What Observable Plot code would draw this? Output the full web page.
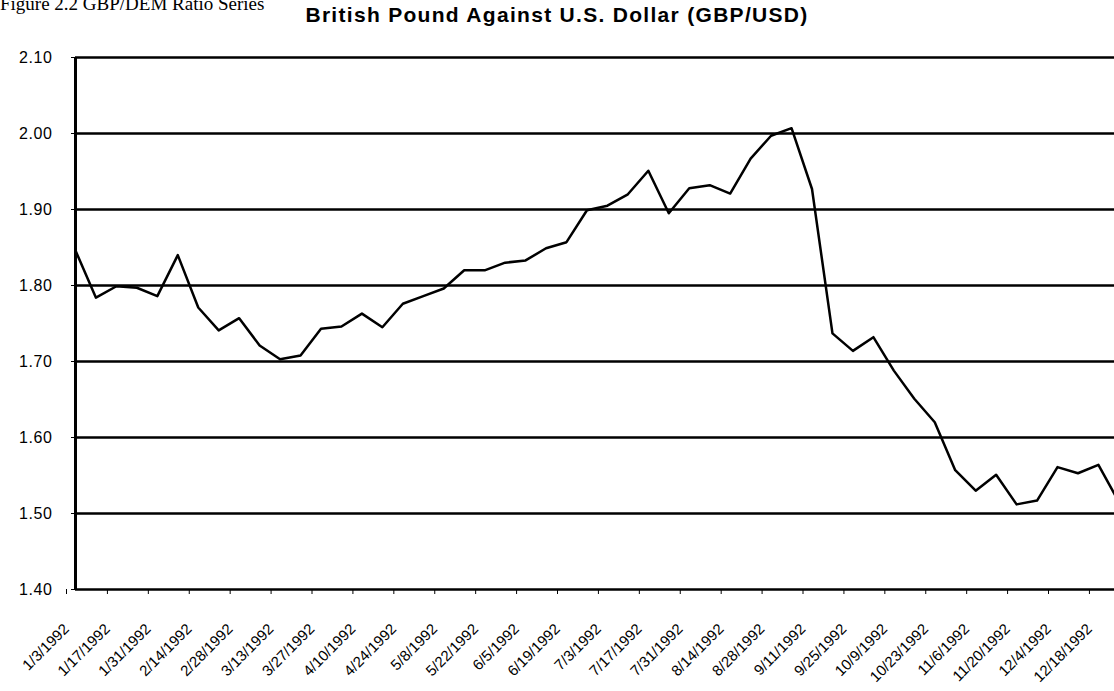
<!DOCTYPE html>
<html>
<head>
<meta charset="utf-8">
<script src="https://cdn.jsdelivr.net/npm/d3@7"></script>
<script src="https://cdn.jsdelivr.net/npm/@observablehq/plot@0.6"></script>
<style>
  html, body { margin: 0; padding: 0; background: #fff; }
  #wrap { position: relative; width: 1114px; height: 691px; overflow: hidden; background: #fff; }
  #fig { position: absolute; left: 0; top: -6px; font-family: "Liberation Serif", "Times New Roman", serif; font-size: 19px; line-height: 20px; white-space: nowrap; color: #000; }
  #title { position: absolute; left: 0; top: 3px; width: 1114px; text-align: center; font-family: "Liberation Sans", Arial, sans-serif; font-weight: bold; font-size: 21px; letter-spacing: 1.3px; line-height: 24px; color: #000; }
  #chart { position: absolute; left: 0; top: 30px; }
  #chart g[aria-label="y-axis tick label"] { letter-spacing: 0.6px; }
</style>
</head>
<body>
<div id="wrap">
  <div id="fig">Figure 2.2 GBP/DEM Ratio Series</div>
  <div id="title">British Pound Against U.S. Dollar (GBP/USD)</div>
  <div id="chart"></div>
</div>
<script>
// Weekly observation dates (1992)
const dates = [
  "1992-01-03","1992-01-10","1992-01-17","1992-01-24","1992-01-31","1992-02-07","1992-02-14","1992-02-21",
  "1992-02-28","1992-03-06","1992-03-13","1992-03-20","1992-03-27","1992-04-03","1992-04-10","1992-04-17",
  "1992-04-24","1992-05-01","1992-05-08","1992-05-15","1992-05-22","1992-05-29","1992-06-05","1992-06-12",
  "1992-06-19","1992-06-26","1992-07-03","1992-07-10","1992-07-17","1992-07-24","1992-07-31","1992-08-07",
  "1992-08-14","1992-08-21","1992-08-28","1992-09-04","1992-09-11","1992-09-18","1992-09-25","1992-10-02",
  "1992-10-09","1992-10-16","1992-10-23","1992-10-30","1992-11-06","1992-11-13","1992-11-20","1992-11-27",
  "1992-12-04","1992-12-11","1992-12-18","1992-12-25"
];
// GBP/USD rate
const rates = [
  1.846, 1.784, 1.799, 1.797, 1.786, 1.840, 1.771, 1.741,
  1.757, 1.721, 1.703, 1.708, 1.743, 1.746, 1.763, 1.745,
  1.776, 1.786, 1.796, 1.820, 1.820, 1.830, 1.833, 1.849,
  1.857, 1.899, 1.905, 1.920, 1.951, 1.895, 1.928, 1.932,
  1.921, 1.967, 1.997, 2.007, 1.927, 1.737, 1.714, 1.732,
  1.688, 1.651, 1.620, 1.557, 1.530, 1.551, 1.512, 1.517,
  1.561, 1.553, 1.564, 1.515
];
// Category axis labels (every two weeks)
const xTickLabels = [
  "1/3/1992","1/17/1992","1/31/1992","2/14/1992","2/28/1992","3/13/1992","3/27/1992","4/10/1992",
  "4/24/1992","5/8/1992","5/22/1992","6/5/1992","6/19/1992","7/3/1992","7/17/1992","7/31/1992",
  "8/14/1992","8/28/1992","9/11/1992","9/25/1992","10/9/1992","10/23/1992","11/6/1992","11/20/1992",
  "12/4/1992","12/18/1992"
];
const yTicks = [1.40, 1.50, 1.60, 1.70, 1.80, 1.90, 2.00, 2.10];

const parseMDY = s => { const [m, d, y] = s.split("/").map(Number); return new Date(Date.UTC(y, m - 1, d)); };
const data = dates.map((d, i) => ({ date: new Date(d + "T00:00:00Z"), value: rates[i] }));
const xTicks = xTickLabels.map(parseMDY);
const fmtMDY = d => `${d.getUTCMonth() + 1}/${d.getUTCDate()}/${d.getUTCFullYear()}`;

const chart = Plot.plot({
  width: 1114,
  height: 661,
  marginLeft: 75,
  marginRight: 0,
  marginTop: 27,
  marginBottom: 102,
  style: { fontFamily: "'Liberation Sans', Arial, sans-serif", fontSize: "12px", color: "#000", background: "#fff", overflow: "visible" },
  x: { type: "utc", label: null, domain: [new Date("1992-01-03T00:00:00Z"), new Date("1992-12-23T12:00:00Z")] },
  y: { label: null, domain: [1.40, 2.10] },
  marks: [
    Plot.ruleY(yTicks, { stroke: "#000", strokeWidth: 2.5 }),
    Plot.ruleX([new Date("1992-01-03T00:00:00Z")], { y1: 1.40, y2: 2.10, stroke: "#000", strokeWidth: 3 }),
    Plot.axisY({ ticks: yTicks, label: null, tickFormat: d3.format(".2f"), tickSize: 4, tickPadding: 19, fontSize: 16, stroke: "#000" }),
    Plot.axisX({ ticks: xTicks, label: null, tickFormat: fmtMDY, tickRotate: -45, tickSize: 5, tickPadding: 32, dx: -9, fontSize: 15, stroke: "#000" }),
    Plot.line(data, { x: "date", y: "value", stroke: "#000", strokeWidth: 2.5, clip: true })
  ]
});
document.getElementById("chart").appendChild(chart);
</script>
</body>
</html>
